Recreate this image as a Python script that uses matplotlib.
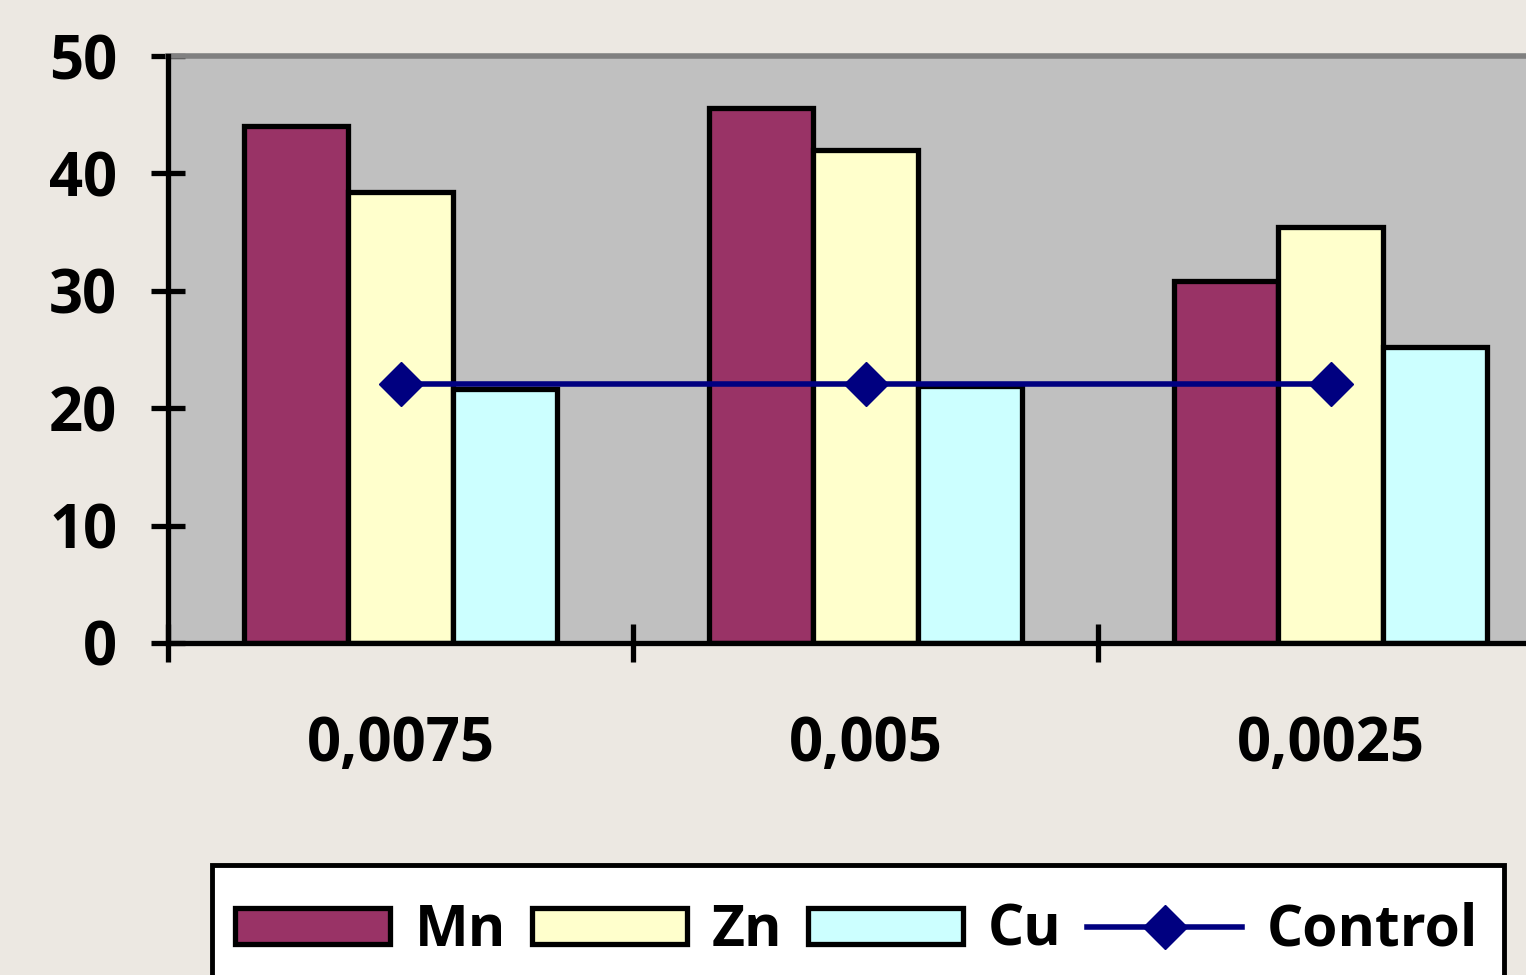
import matplotlib.pyplot as plt
from matplotlib.patches import Rectangle
import numpy as np

# Data
categories = ['0,0075', '0,005', '0,0025']
mn_values = [44.0, 45.6, 30.8]
zn_values = [38.4, 42.0, 35.4]
cu_values = [21.6, 21.9, 25.2]
control_values = [22.1, 22.1, 22.1]
y_ticks = [0, 10, 20, 30, 40, 50]

plt.rcParams['font.family'] = ['Open Sans', 'DejaVu Sans']
plt.rcParams['font.weight'] = 'bold'

fig = plt.figure(figsize=(15.26, 9.75), dpi=100, facecolor='#ECE8E2')
# axes deliberately extends past the right edge, as in the reference
ax = fig.add_axes([168 / 1526, 1 - 643 / 975, 1395 / 1526, 587 / 975])
ax.set_facecolor('#C0C0C0')

x = np.arange(len(categories))
width = 0.224
bar_kw = dict(edgecolor='black', linewidth=3.8, zorder=2)
b1 = ax.bar(x - width, mn_values, width, color='#993366', label='Mn', **bar_kw)
b2 = ax.bar(x, zn_values, width, color='#FFFFCC', label='Zn', **bar_kw)
b3 = ax.bar(x + width, cu_values, width, color='#CCFFFF', label='Cu', **bar_kw)
l1, = ax.plot(x, control_values, color='#000080', linewidth=4, marker='D',
              markersize=22, label='Control', zorder=3)

ax.set_xlim(-0.5, 2.5)
ax.set_ylim(0, 50)
ax.set_yticks(y_ticks)
ax.set_xticks([-0.5, 0.5, 1.5])
ax.set_xticklabels([])
ax.set_xticks(x, minor=True)
ax.set_xticklabels(categories, minor=True)

ax.tick_params(axis='y', direction='inout', length=25, width=3.8,
               labelsize=43, pad=24)
ax.tick_params(axis='x', which='major', direction='inout', length=28, width=3.8)
ax.tick_params(axis='x', which='minor', length=0, labelsize=43, pad=52)

for side in ['left', 'bottom']:
    ax.spines[side].set_linewidth(3.8)
    ax.spines[side].set_zorder(4)
ax.spines['top'].set_color('#808080')
ax.spines['top'].set_linewidth(4)
ax.spines['right'].set_visible(False)

# legend box (runs off the bottom edge like the reference)
fig.patches.append(Rectangle((212 / 1526, -0.05), 1292 / 1526, 1 - 865 / 975 + 0.05,
                             transform=fig.transFigure, facecolor='white',
                             edgecolor='black', linewidth=3.5, zorder=0))
leg = fig.legend(handles=[b1, b2, b3, l1],
                 loc='center left', bbox_to_anchor=(235 / 1526, 1 - 931 / 975),
                 borderaxespad=0, borderpad=0, ncol=4, fontsize=41,
                 frameon=False, handlelength=2.72, handleheight=0.61,
                 handletextpad=0.44, columnspacing=0.45)

fig.savefig('out.png', dpi=100, facecolor=fig.get_facecolor())
